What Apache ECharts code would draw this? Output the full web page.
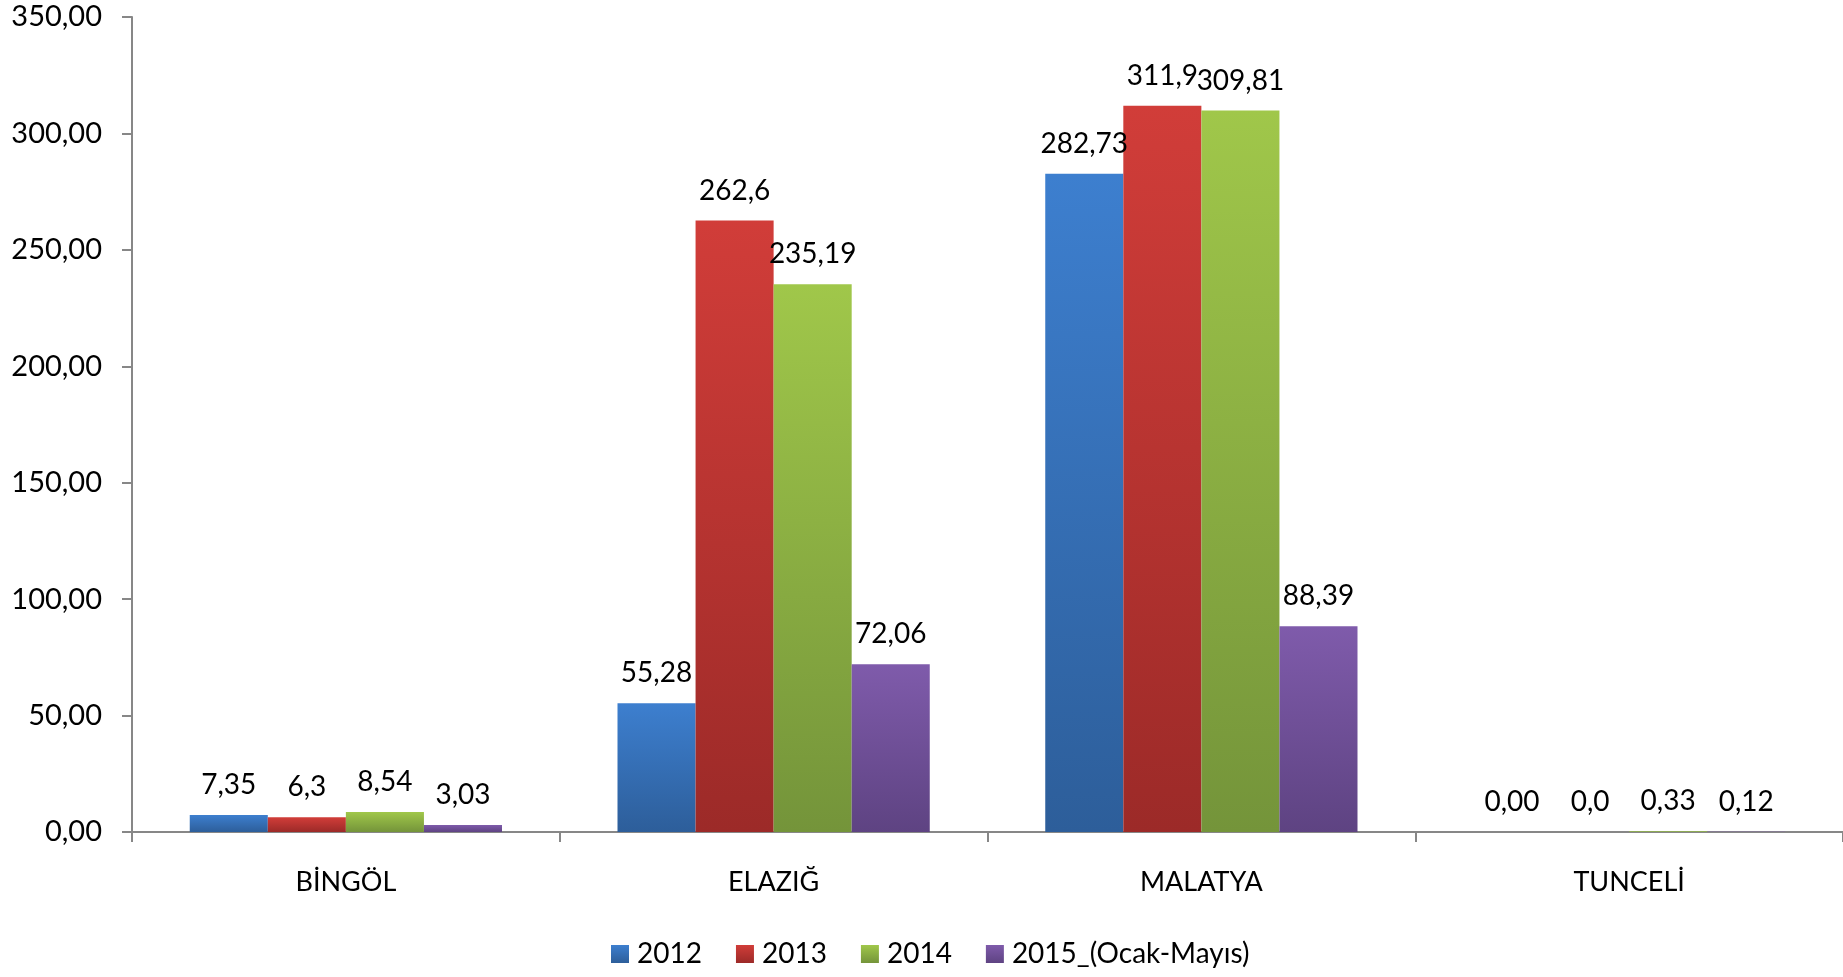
<!DOCTYPE html>
<html>
<head>
<meta charset="utf-8">
<script src="https://cdn.jsdelivr.net/npm/echarts@6/dist/echarts.min.js"></script>
<style>
  html, body { margin: 0; padding: 0; background: #fff; }
  #chart { width: 1843px; height: 977px; }
</style>
</head>
<body>
<div id="chart"></div>
<script>
// data
const categories = ['BİNGÖL', 'ELAZIĞ', 'MALATYA', 'TUNCELİ'];
const seriesNames = ['2012', '2013', '2014', '2015_(Ocak-Mayıs)'];
const values2012 = [7.35, 55.28, 282.73, 0.00];
const values2013 = [6.3, 262.6, 311.9, 0.0];
const values2014 = [8.54, 235.19, 309.81, 0.33];
const values2015 = [3.03, 72.06, 88.39, 0.12];
// labels as printed on the chart
const labels2012 = ['7,35', '55,28', '282,73', '0,00'];
const labels2013 = ['6,3', '262,6', '311,9', '0,0'];
const labels2014 = ['8,54', '235,19', '309,81', '0,33'];
const labels2015 = ['3,03', '72,06', '88,39', '0,12'];

const colors = [
  ['#3d7fcf', '#2d5e9a'],
  ['#d13d39', '#9c2a28'],
  ['#a0c74a', '#74943a'],
  ['#7f5bab', '#5e4382']
];

let myChart = echarts.init(document.getElementById('chart'), null, { renderer: 'canvas' });

function grad(c) {
  return new echarts.graphic.LinearGradient(0, 0, 0, 1, [
    { offset: 0, color: c[0] },
    { offset: 1, color: c[1] }
  ]);
}

function makeSeries(i, values, labels) {
  return {
    name: seriesNames[i],
    type: 'bar',
    data: values,
    barGap: '0%',
    barCategoryGap: '27%',
    itemStyle: { color: grad(colors[i]) },
    label: {
      show: true,
      position: 'top',
      distance: 16,
      color: '#000',
      fontFamily: 'Lato',
      fontSize: 28,
      formatter: function (p) { return labels[p.dataIndex]; }
    }
  };
}

let option = {
  animation: false,
  textStyle: { fontFamily: 'Lato' },
  grid: { left: 132, right: 0, top: 17, bottom: 145, containLabel: false },
  legend: {
    left: 611,
    top: 940,
    padding: 0,
    itemWidth: 18,
    itemHeight: 18,
    itemGap: 34,
    icon: 'rect',
    textStyle: { fontFamily: 'Lato', fontSize: 28, color: '#000', padding: [0, 0, 0, 3] },
    data: seriesNames
  },
  xAxis: {
    type: 'category',
    data: categories,
    axisLine: { lineStyle: { color: '#878787', width: 2 } },
    axisTick: { show: true, length: 10, lineStyle: { color: '#878787', width: 2 } },
    axisLabel: { color: '#000', fontSize: 27, fontFamily: 'Lato', margin: 37 }
  },
  yAxis: {
    type: 'value',
    min: 0,
    max: 350,
    interval: 50,
    splitLine: { show: false },
    axisLine: { show: true, lineStyle: { color: '#878787', width: 2 } },
    axisTick: { show: true, length: 10, lineStyle: { color: '#878787', width: 2 } },
    axisLabel: {
      color: '#000',
      fontSize: 29,
      fontFamily: 'Lato',
      margin: 30,
      formatter: function (v) { return v.toFixed(2).replace('.', ','); }
    }
  },
  series: [
    makeSeries(0, values2012, labels2012),
    makeSeries(1, values2013, labels2013),
    makeSeries(2, values2014, labels2014),
    makeSeries(3, values2015, labels2015)
  ]
};
myChart.setOption(option, true);
window.addEventListener('resize', myChart.resize);
</script>
</body>
</html>
